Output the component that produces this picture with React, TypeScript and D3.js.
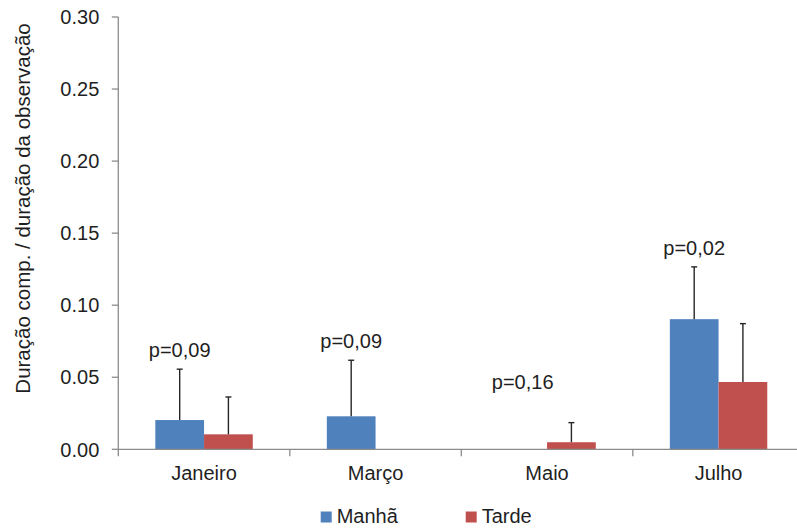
import React from "react";
import * as d3 from "d3";

// Monthly means of behaviour duration ratio, morning vs afternoon, with SD
const months = ["Janeiro", "Março", "Maio", "Julho"];
const seriesNames = ["Manhã", "Tarde"];
const manhaValues = [0.0203, 0.0229, 0, 0.0903];
const manhaErrors = [0.0353, 0.0389, 0, 0.0363];
const tardeValues = [0.0104, 0, 0.0049, 0.0467];
const tardeErrors = [0.0259, 0, 0.0136, 0.0405];
const pLabels = ["p=0,09", "p=0,09", "p=0,16", "p=0,02"];
const pLabelLevels = [0.0556, 0.0618, 0.0335, 0.1266];
const yTicks = [0, 0.05, 0.1, 0.15, 0.2, 0.25, 0.3];

const W = 797;
const H = 528;
const left = 118.3;
const right = 804.3;
const top = 17;
const bottom = 449.3;
const colors = ["#4F81BD", "#C0504D"];
const axisColor = "#8c8c8c";
const textColor = "#1f1f1f";
const font = "'Liberation Sans', Arial, sans-serif";

export default function App() {
  const x = d3.scaleBand<string>().domain(months).range([left, right]).paddingInner(0).paddingOuter(0);
  const inner = d3.scaleBand<string>().domain(seriesNames).range([0, x.bandwidth()]).paddingInner(0).paddingOuter(0.76);
  const y = d3.scaleLinear().domain([0, 0.3]).range([bottom, top]);

  const series = [
    { name: seriesNames[0], values: manhaValues, errors: manhaErrors, color: colors[0] },
    { name: seriesNames[1], values: tardeValues, errors: tardeErrors, color: colors[1] },
  ];

  const bw = inner.bandwidth();

  return (
    <svg width={W} height={H} style={{ position: "absolute", left: 0, top: 0, background: "#fff" }} fontFamily={font}>
      {/* y axis */}
      <line x1={left} x2={left} y1={top} y2={bottom + 7} stroke={axisColor} strokeWidth={1.3} />
      {yTicks.map((t) => (
        <g key={t}>
          <line x1={left - 6.5} x2={left} y1={y(t)} y2={y(t)} stroke={axisColor} strokeWidth={1.3} />
          <text x={left - 19} y={y(t)} dy="0.36em" textAnchor="end" fontSize={20} fill={textColor}>
            {d3.format(".2f")(t)}
          </text>
        </g>
      ))}
      <text
        transform={`translate(23, 208.5) rotate(-90)`}
        textAnchor="middle"
        dy="0.35em"
        fontSize={20.5}
        fill={textColor}
      >
        Duração comp. / duração da observação
      </text>

      {/* bars */}
      {series.map((s) =>
        months.map((m, i) => {
          const bx = (x(m) as number) + (inner(s.name) as number);
          const v = s.values[i];
          if (v <= 0) return null;
          return (
            <rect key={s.name + m} x={bx} y={y(v)} width={bw} height={y(0) - y(v)} fill={s.color} />
          );
        })
      )}

      {/* error bars */}
      {series.map((s) =>
        months.map((m, i) => {
          const cx = (x(m) as number) + (inner(s.name) as number) + bw / 2;
          const v = s.values[i];
          const e = s.errors[i];
          if (e <= 0) return null;
          return (
            <g key={"e" + s.name + m} stroke="#262626" strokeWidth={1.4}>
              <line x1={cx} x2={cx} y1={y(v)} y2={y(v + e)} />
              <line x1={cx - 3} x2={cx + 3} y1={y(v + e)} y2={y(v + e)} />
            </g>
          );
        })
      )}

      {/* x axis */}
      <line x1={left} x2={right} y1={bottom} y2={bottom} stroke={axisColor} strokeWidth={1.3} />
      {months.map((m, i) => (
        <g key={"xt" + m}>
          {i > 0 && (
            <line x1={x(m) as number} x2={x(m) as number} y1={bottom} y2={bottom + 7} stroke={axisColor} strokeWidth={1.3} />
          )}
          <text x={(x(m) as number) + x.bandwidth() / 2} y={480} textAnchor="middle" fontSize={20} fill={textColor}>
            {m}
          </text>
        </g>
      ))}

      {/* p-value labels above the morning bars */}
      {months.map((m, i) => (
        <text
          key={"p" + m}
          x={(x(m) as number) + (inner(seriesNames[0]) as number) + bw / 2}
          y={y(pLabelLevels[i]) - 12}
          textAnchor="middle"
          fontSize={20}
          fill={textColor}
        >
          {pLabels[i]}
        </text>
      ))}

      {/* legend */}
      {series.map((s, i) => {
        const lx = [320.7, 465.7][i];
        return (
          <g key={"lg" + s.name}>
            <rect x={lx} y={511.5} width={11} height={11} fill={s.color} />
            <text x={lx + 16} y={523} fontSize={20} fill={textColor}>
              {s.name}
            </text>
          </g>
        );
      })}
    </svg>
  );
}
